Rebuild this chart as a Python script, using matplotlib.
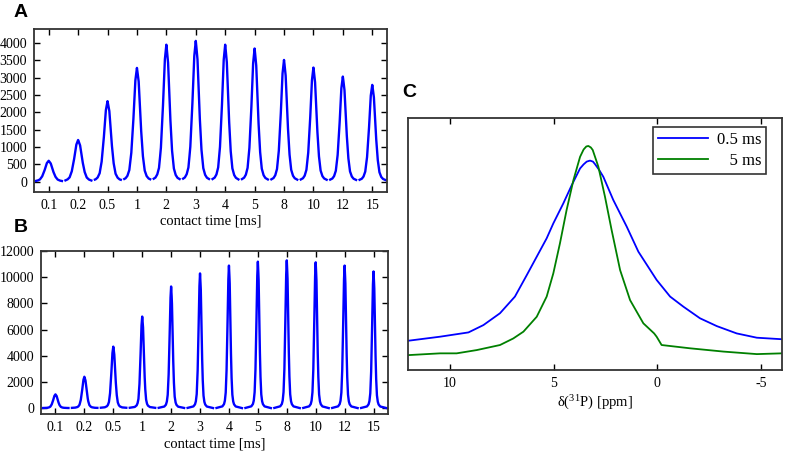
"""
CP kinetics: 31P peak intensity vs contact time (A, B) and
lineshape comparison at 0.5 ms and 5 ms contact time (C).
"""

import numpy as np
import matplotlib.pyplot as plt

plt.rcParams['font.family'] = ['Liberation Serif', 'DejaVu Serif']
plt.rcParams['axes.unicode_minus'] = False

tiempos = ['0.1', '0.2', '0.5', '1', '2', '3', '4', '5', '8', '10', '12', '15']

# alturas de pico y semianchos (en unidades de separacion entre ticks)
alturas_a = [600, 1200, 2320, 3280, 3950, 4060, 3950, 3840, 3510, 3290, 3030, 2790]
anchos_a  = [0.15, 0.145, 0.135, 0.13, 0.125, 0.125, 0.12, 0.12, 0.12, 0.12, 0.12, 0.12]
alturas_b = [1050, 2400, 4700, 7000, 9300, 10300, 10900, 11200, 11300, 11150, 10900, 10450]
anchos_b  = [0.09, 0.085, 0.075, 0.065, 0.06, 0.058, 0.057, 0.057, 0.057, 0.057, 0.057, 0.057]

perfil_x = [-8, -4, -3, -2.5, -2, -1.5, -1, -0.45, 0, 0.45, 1, 1.5, 2, 2.5, 3, 4, 8]
perfil_y = [0.0, 0.012, 0.028, 0.05, 0.10, 0.24, 0.50, 0.88, 1.0, 0.88, 0.50, 0.24,
            0.10, 0.05, 0.028, 0.012, 0.0]

# espectros del panel C (ppm, intensidad relativa)
ppm_05 = [12, 10.47, 9.1, 8.38, 7.58, 6.86, 6.29, 5.81, 5.33, 5.01, 4.53, 4.12,
          3.72, 3.55, 3.4, 3.24, 3.1, 3.0, 2.8, 2.6, 2.12, 1.47, 0.91, 0.03, -0.62,
          -1.26, -2.06, -2.87, -3.83, -4.8, -6]
int_05 = [0.116, 0.132, 0.149, 0.178, 0.225, 0.291, 0.376, 0.449, 0.522, 0.581,
          0.66, 0.733, 0.799, 0.815, 0.826, 0.83, 0.826, 0.816, 0.793, 0.766,
          0.674, 0.568, 0.469, 0.357, 0.291, 0.251, 0.205, 0.174, 0.145, 0.128,
          0.122]
ppm_5 = [12, 10.47, 9.67, 8.7, 7.58, 6.94, 6.45, 5.81, 5.33, 5.01, 4.69, 4.37,
         4.04, 3.72, 3.55, 3.42, 3.32, 3.2, 3.11, 2.84, 2.52, 2.2, 1.79, 1.31,
         0.67, 0.15, 0.03, -0.21, -1.58, -3.19, -4.8, -6]
int_5 = [0.059, 0.066, 0.066, 0.079, 0.099, 0.125, 0.152, 0.211, 0.291, 0.383,
         0.502, 0.634, 0.753, 0.845, 0.874, 0.886, 0.888, 0.882, 0.872, 0.806,
         0.687, 0.555, 0.396, 0.277, 0.185, 0.145, 0.132, 0.099, 0.086, 0.073,
         0.063, 0.066]


def picos(ax, alturas, anchos):
    for i, (h, w) in enumerate(zip(alturas, anchos)):
        x = np.linspace(i - 0.43, i + 0.45, 300)
        y = h * np.interp((x - i) / w, perfil_x, perfil_y)
        ax.plot(x, y, color='#0000ff', lw=1.7)


def estilo(ax):
    ax.tick_params(direction='in', top=True, right=True, length=4,
                   width=1, labelsize=10, pad=5)
    for s in ax.spines.values():
        s.set_linewidth(1.3)
        s.set_color('#333333')


fig = plt.figure(figsize=(7.87, 4.51), dpi=100)

ax_a = fig.add_axes([0.0432, 0.5743, 0.4485, 0.3614])
picos(ax_a, alturas_a, anchos_a)
ax_a.set_xlim(-0.5, 11.5)
ax_a.set_ylim(-300, 4400)
ax_a.set_yticks(range(0, 4001, 500))
ax_a.set_xticks(range(len(tiempos)))
ax_a.set_xticklabels(tiempos)
ax_a.set_xlabel('contact time [ms]', fontsize=10.5, labelpad=2)
estilo(ax_a)

ax_b = fig.add_axes([0.0521, 0.082, 0.4409, 0.3615])
picos(ax_b, alturas_b, anchos_b)
ax_b.set_xlim(-0.5, 11.5)
ax_b.set_ylim(-450, 12000)
ax_b.set_yticks(range(0, 12001, 2000))
ax_b.set_xticks(range(len(tiempos)))
ax_b.set_xticklabels(tiempos)
ax_b.set_xlabel('contact time [ms]', fontsize=10.5, labelpad=2.5)
estilo(ax_b)

ax_c = fig.add_axes([0.5188, 0.1796, 0.4745, 0.5594])
ax_c.plot(ppm_05, int_05, color='#0000ff', lw=1.3, label='0.5 ms')
# espacios de cifra + puntuacion para alinear a la derecha
ax_c.plot(ppm_5, int_5, color='#008000', lw=1.3, label='\u2007\u20085 ms')
ax_c.set_xlim(12, -6)
ax_c.set_ylim(0, 1)
ax_c.set_xticks([10, 5, 0, -5])
ax_c.set_yticks([])
ax_c.set_xlabel(r'$\mathregular{\delta(^{31}P)}$ [ppm]', fontsize=10.5, labelpad=3)
estilo(ax_c)
leg = ax_c.legend(loc='upper right', bbox_to_anchor=(0.958, 0.963),
                  fontsize=12, frameon=True, fancybox=False,
                  edgecolor='black', handlelength=3.0, handletextpad=0.5,
                  borderaxespad=0, labelspacing=0.3, borderpad=0.3)
leg.get_frame().set_linewidth(1.2)

for txt, x, y in [('A', 0.017, 0.962), ('B', 0.017, 0.486), ('C', 0.511, 0.785)]:
    fig.text(x, y, txt, fontsize=14, fontweight='bold', family='Liberation Sans')

fig.savefig('out.png', dpi=100)
